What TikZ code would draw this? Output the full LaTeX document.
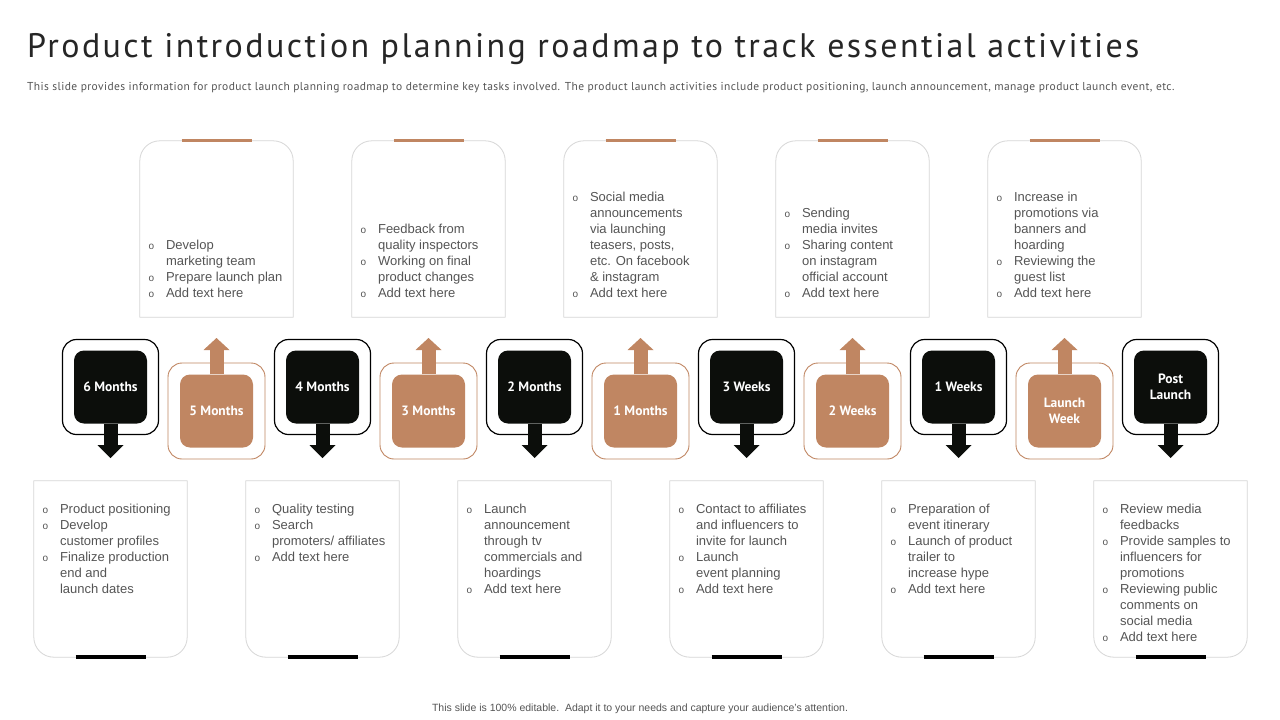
\documentclass[tikz,border=0pt]{standalone}
\usepackage{fontspec}
\setmainfont{Liberation Sans}
\newfontfamily\dinfont{PT Sans}
\newfontfamily\dintitle[LetterSpace=7.1]{PT Sans}
\newfontfamily\dinsub[LetterSpace=3.4]{PT Sans}
\usetikzlibrary{arrows.meta}
\definecolor{brownc}{RGB}{192,134,98}
\definecolor{darkc}{RGB}{12,14,11}
\definecolor{cardline}{RGB}{215,215,215}
\definecolor{txtc}{RGB}{85,85,85}
\definecolor{titlec}{RGB}{38,38,38}
\newcommand{\bl}{{\fontsize{10}{10}\selectfont o}}
\newcommand{\toplist}[1]{\begin{tabular}[b]{@{}c@{\hspace{12pt}}l@{}}#1\end{tabular}}
\newcommand{\botlist}[1]{\begin{tabular}[t]{@{}c@{\hspace{12pt}}l@{}}#1\end{tabular}}
\begin{document}
\begin{tikzpicture}[x=1pt, y=-1pt, line join=round,
	card/.style={minimum width=153pt, minimum height=176pt, inner sep=0pt},
	cardtxt/.style={anchor=base west, inner sep=0pt, text=txtc, font=\fontsize{13}{16}\selectfont},
	darkframe/.style={draw=black, line width=1.2pt, rounded corners=14pt, minimum width=96pt, minimum height=95pt},
	brownframe/.style={draw=brownc, line width=0.9pt, rounded corners=14pt, minimum width=97pt, minimum height=96pt},
	darkbox/.style={fill=darkc, rounded corners=10pt, minimum size=73pt, inner sep=0pt, text=white, align=center, font=\dinfont\bfseries\fontsize{13.5}{16}\selectfont},
	brownbox/.style={darkbox, fill=brownc},
	downarrow/.style={draw=darkc, line width=14pt, -{Triangle[width=26pt, length=13pt, line width=0pt]}},
	uparrow/.style={draw=brownc, line width=14pt, -{Triangle[width=26pt, length=12pt, line width=0pt]}}]
	\useasboundingbox[fill=white] (0,0) rectangle (1280,720);

	\path
	(27,57) node[anchor=base west, inner sep=0pt, text=titlec, font=\dintitle\fontsize{34}{40}\selectfont] (title) {Product introduction planning roadmap to track essential activities}
	(27,90) node[anchor=base west, inner sep=0pt, text=txtc, font=\dinsub\fontsize{11.5}{14}\selectfont] (subtitle) {This slide provides information for product launch planning roadmap to determine key tasks involved. The product launch activities include product positioning, launch announcement, manage product launch event, etc.}
	(640,711) node[anchor=base, inner sep=0pt, text=txtc, font=\fontsize{10.5}{12}\selectfont] (footer) {This slide is 100\% editable.\ \ Adapt it to your needs and capture your audience's attention.};

	\path
	(216.5,229) node[card] (t1) {}
	(428.5,229) node[card] (t2) {}
	(640.5,229) node[card] (t3) {}
	(852.5,229) node[card] (t4) {}
	(1064.5,229) node[card] (t5) {}
	(110.5,569) node[card] (b1) {}
	(322.5,569) node[card] (b2) {}
	(534.5,569) node[card] (b3) {}
	(746.5,569) node[card] (b4) {}
	(958.5,569) node[card] (b5) {}
	(1170.5,569) node[card] (b6) {};

	\foreach \c in {t1,t2,t3,t4,t5} {
		\draw[cardline, line width=0.8pt] (\c.south west) -- ([yshift=-20pt]\c.north west) arc[start angle=180, end angle=90, radius=20pt] -- ([xshift=-20pt]\c.north east) arc[start angle=90, end angle=0, radius=20pt] -- (\c.south east) -- cycle;
		\draw[brownc, line width=3pt] ([xshift=-35pt]\c.north) -- ([xshift=35pt]\c.north);
	}
	\foreach \c in {b1,b2,b3,b4,b5,b6} {
		\draw[cardline, line width=0.8pt] (\c.north west) -- ([yshift=20pt]\c.south west) arc[start angle=180, end angle=270, radius=20pt] -- ([xshift=-20pt]\c.south east) arc[start angle=270, end angle=360, radius=20pt] -- (\c.north east) -- cycle;
		\draw[black, line width=3.5pt] ([xshift=-35pt]\c.south) -- ([xshift=35pt]\c.south);
	}

	\node[cardtxt] (t1txt) at ([shift={(8.5pt,20pt)}]t1.south west) {\toplist{\bl & Develop\\ & marketing team\\ \bl & Prepare launch plan\\ \bl & Add text here}};
	\node[cardtxt] (t2txt) at ([shift={(8.5pt,20pt)}]t2.south west) {\toplist{\bl & Feedback from\\ & quality inspectors\\ \bl & Working on final\\ & product changes\\ \bl & Add text here}};
	\node[cardtxt] (t3txt) at ([shift={(8.5pt,20pt)}]t3.south west) {\toplist{\bl & Social media\\ & announcements\\ & via launching\\ & teasers, posts,\\ & etc. On facebook\\ & \& instagram\\ \bl & Add text here}};
	\node[cardtxt] (t4txt) at ([shift={(8.5pt,20pt)}]t4.south west) {\toplist{\bl & Sending\\ & media invites\\ \bl & Sharing content\\ & on instagram\\ & official account\\ \bl & Add text here}};
	\node[cardtxt] (t5txt) at ([shift={(8.5pt,20pt)}]t5.south west) {\toplist{\bl & Increase in\\ & promotions via\\ & banners and\\ & hoarding\\ \bl & Reviewing the\\ & guest list\\ \bl & Add text here}};

	\node[cardtxt] (b1txt) at ([shift={(8.5pt,-33pt)}]b1.north west) {\botlist{\bl & Product positioning\\ \bl & Develop\\ & customer profiles\\ \bl & Finalize production\\ & end and\\ & launch dates}};
	\node[cardtxt] (b2txt) at ([shift={(8.5pt,-33pt)}]b2.north west) {\botlist{\bl & Quality testing\\ \bl & Search\\ & promoters/ affiliates\\ \bl & Add text here}};
	\node[cardtxt] (b3txt) at ([shift={(8.5pt,-33pt)}]b3.north west) {\botlist{\bl & Launch\\ & announcement\\ & through tv\\ & commercials and\\ & hoardings\\ \bl & Add text here}};
	\node[cardtxt] (b4txt) at ([shift={(8.5pt,-33pt)}]b4.north west) {\botlist{\bl & Contact to affiliates\\ & and influencers to\\ & invite for launch\\ \bl & Launch\\ & event planning\\ \bl & Add text here}};
	\node[cardtxt] (b5txt) at ([shift={(8.5pt,-33pt)}]b5.north west) {\botlist{\bl & Preparation of\\ & event itinerary\\ \bl & Launch of product\\ & trailer to\\ & increase hype\\ \bl & Add text here}};
	\node[cardtxt] (b6txt) at ([shift={(8.5pt,-33pt)}]b6.north west) {\botlist{\bl & Review media\\ & feedbacks\\ \bl & Provide samples to\\ & influencers for\\ & promotions\\ \bl & Reviewing public\\ & comments on\\ & social media\\ \bl & Add text here}};

	\path
	(110.5,387) node[darkframe] (f1) {}
	(216.5,411) node[brownframe] (f2) {}
	(322.5,387) node[darkframe] (f3) {}
	(428.5,411) node[brownframe] (f4) {}
	(534.5,387) node[darkframe] (f5) {}
	(640.5,411) node[brownframe] (f6) {}
	(746.5,387) node[darkframe] (f7) {}
	(852.5,411) node[brownframe] (f8) {}
	(958.5,387) node[darkframe] (f9) {}
	(1064.5,411) node[brownframe] (f10) {}
	(1170.5,387) node[darkframe] (f11) {};

	\path
	(f1) node[darkbox] (m1) {6 Months}
	(f2) node[brownbox] (m2) {5 Months}
	(f3) node[darkbox] (m3) {4 Months}
	(f4) node[brownbox] (m4) {3 Months}
	(f5) node[darkbox] (m5) {2 Months}
	(f6) node[brownbox] (m6) {1 Months}
	(f7) node[darkbox] (m7) {3 Weeks}
	(f8) node[brownbox] (m8) {2 Weeks}
	(f9) node[darkbox] (m9) {1 Weeks}
	(f10) node[brownbox] (m10) {Launch\\Week}
	(f11) node[darkbox] (m11) {Post\\Launch};

	\coordinate (a1) at (110.5,458);
	\coordinate (a2) at (216.5,338);
	\coordinate (a3) at (322.5,458);
	\coordinate (a4) at (428.5,338);
	\coordinate (a5) at (534.5,458);
	\coordinate (a6) at (640.5,338);
	\coordinate (a7) at (746.5,458);
	\coordinate (a8) at (852.5,338);
	\coordinate (a9) at (958.5,458);
	\coordinate (a10) at (1064.5,338);
	\coordinate (a11) at (1170.5,458);
	\draw[downarrow] (m1.south) -- (a1);
	\draw[uparrow] (m2.north) -- (a2);
	\draw[downarrow] (m3.south) -- (a3);
	\draw[uparrow] (m4.north) -- (a4);
	\draw[downarrow] (m5.south) -- (a5);
	\draw[uparrow] (m6.north) -- (a6);
	\draw[downarrow] (m7.south) -- (a7);
	\draw[uparrow] (m8.north) -- (a8);
	\draw[downarrow] (m9.south) -- (a9);
	\draw[uparrow] (m10.north) -- (a10);
	\draw[downarrow] (m11.south) -- (a11);
\end{tikzpicture}
\end{document}
